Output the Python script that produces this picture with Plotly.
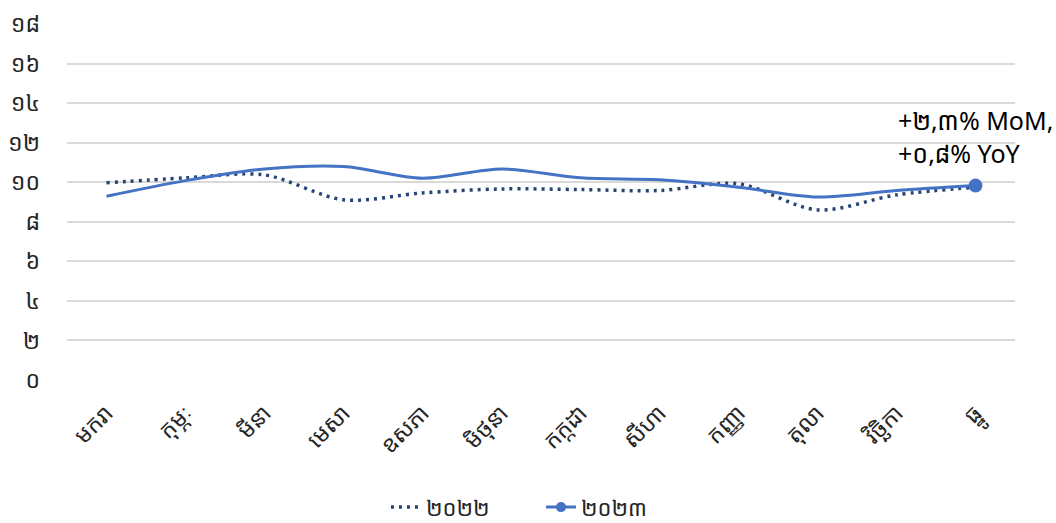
import plotly.graph_objects as go

months = ["មករា", "កុម្ភៈ", "មីនា", "មេសា", "ឧសភា", "មិថុនា",
          "កក្កដា", "សីហា", "កញ្ញា", "តុលា", "វិច្ឆិកា", "ធ្នូ"]
y2022 = [9.97, 10.22, 10.37, 9.11, 9.46, 9.66, 9.63, 9.58, 9.92, 8.6, 9.36, 9.75]
y2023 = [9.29, 10.08, 10.67, 10.79, 10.2, 10.67, 10.22, 10.12, 9.75, 9.25, 9.58, 9.83]
ytick_vals = [0, 2, 4, 6, 8, 10, 12, 14, 16, 18]
ytick_text = ["០", "២", "៤", "៦", "៨", "១០", "១២", "១៤", "១៦", "១៨"]
name2022 = "២០២២"
name2023 = "២០២៣"
note = "+២,៣% MoM,<br>+០,៨% YoY"

FONT = "Noto Sans Khmer, Noto Sans, DejaVu Sans, sans-serif"
BLUE = "#4472C4"
NAVY = "#264478"

fig = go.Figure()
fig.add_trace(go.Scatter(x=months, y=y2022, mode="lines", name=name2022,
                         line=dict(color=NAVY, width=3.5, dash="3px,5px", shape="spline", smoothing=0.9)))
fig.add_trace(go.Scatter(x=months, y=y2023, mode="lines", name=name2023, showlegend=False,
                         legendgroup="b",
                         line=dict(color=BLUE, width=3, shape="spline", smoothing=0.9)))
fig.add_trace(go.Scatter(x=[months[-1]], y=[y2023[-1]], mode="markers", showlegend=False,
                         legendgroup="b", marker=dict(color=BLUE, size=14)))
fig.add_trace(go.Scatter(x=[None], y=[None], mode="lines+markers", name=name2023,
                         legendgroup="b",
                         line=dict(color=BLUE, width=3), marker=dict(color=BLUE, size=10)))

fig.add_annotation(x=months[-1], y=12.3, xref="x", yref="y", text=note, showarrow=False,
                   xanchor="center", yanchor="middle", align="left",
                   font=dict(family=FONT, size=25, color="#000000"))

fig.update_layout(
    width=1056, height=523,
    margin=dict(l=67, r=41, t=23, b=143),
    paper_bgcolor="white", plot_bgcolor="white",
    font=dict(family=FONT, color="#262626"),
    hovermode=False,
    legend=dict(orientation="h", x=0.5, xanchor="center", xref="paper",
                yref="container", y=0.03, yanchor="middle",
                font=dict(size=22, color="#262626"), entrywidth=110, tracegroupgap=0),
    xaxis=dict(type="category", range=[-0.5, 11.5], showgrid=False, showline=False,
               automargin=False, ticklabelstandoff=14,
               tickangle=-45, tickfont=dict(size=23, color="#262626"), ticks=""),
    yaxis=dict(range=[0, 18.05], tickvals=ytick_vals, ticktext=ytick_text,
               automargin=False,
               showgrid=True, gridcolor="#D9D9D9", gridwidth=1.5, zeroline=False,
               tickfont=dict(size=23, color="#262626"), ticks="", ticklabelstandoff=26),
)
fig.write_html("out.html", post_script="document.body.style.margin='0px';",
               config={"displayModeBar": False})
